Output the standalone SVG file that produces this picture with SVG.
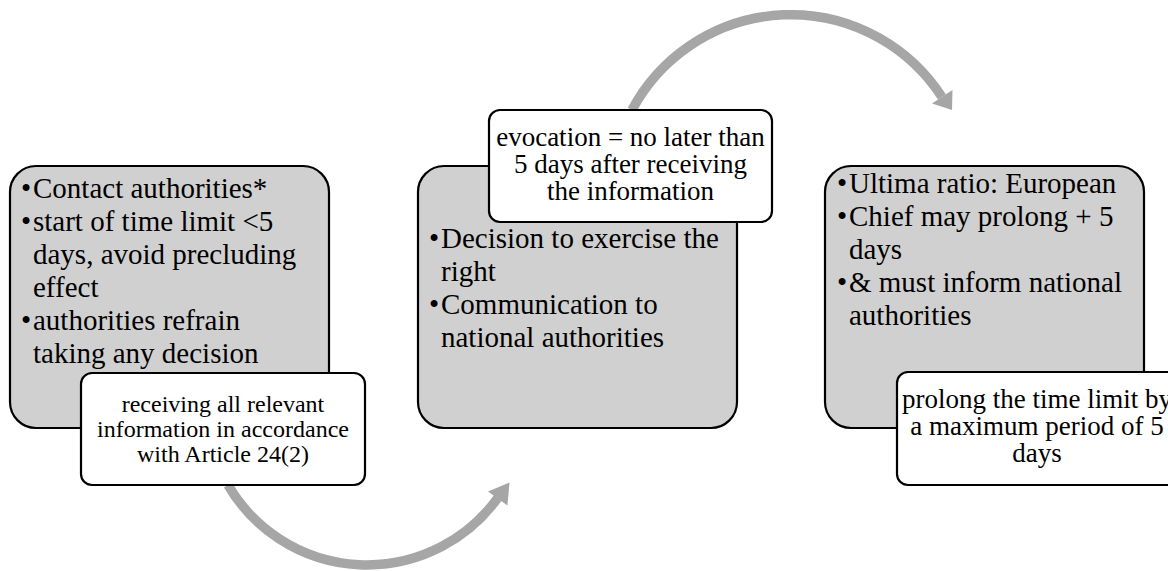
<svg xmlns="http://www.w3.org/2000/svg" width="1168" height="571" viewBox="0 0 1168 571">
<style>
.main{fill:#d0d0d0;stroke:#000;stroke-width:2.2}
.note{fill:#fff;stroke:#000;stroke-width:2.2}
.t{font-family:"Liberation Serif","Times New Roman",serif;fill:#000}
.m{font-size:29px}
.c{text-anchor:middle}
.arc{fill:none;stroke:#a6a6a6;stroke-width:9.5}
.head{fill:#a6a6a6}
</style>
<rect width="1168" height="571" fill="#fff"/>
<g id="connectors">
<path class="arc" d="M228,485 A161,161 0 0,0 497.7,498"/>
<polygon class="head" points="488,491.5 507.4,505.5 509.5,482.5"/>
<path class="arc" d="M632,110 A180,180 0 0,1 942,97"/>
<polygon class="head" points="932,103.6 952.5,90 952,110"/>
</g>
<g id="node1">
<rect class="main" x="10" y="166" width="319" height="262" rx="26"/>
<text class="t m"><tspan x="21" y="198">•</tspan><tspan x="33" y="198">Contact authorities*</tspan><tspan x="21" y="231">•</tspan><tspan x="33" y="231">start of time limit &lt;5</tspan><tspan x="33" y="264">days, avoid precluding</tspan><tspan x="33" y="297">effect</tspan><tspan x="21" y="330">•</tspan><tspan x="33" y="330">authorities refrain</tspan><tspan x="33" y="363">taking any decision</tspan></text>
</g>
<g id="note1">
<rect class="note" x="81" y="373" width="284" height="112" rx="11"/>
<text class="t c" font-size="24"><tspan x="223" y="412">receiving all relevant</tspan><tspan x="223" y="437">information in accordance</tspan><tspan x="223" y="462">with Article 24(2)</tspan></text>
</g>
<g id="node2">
<rect class="main" x="418" y="166" width="319" height="262" rx="26"/>
<text class="t m"><tspan x="429" y="248">•</tspan><tspan x="441" y="248">Decision to exercise the</tspan><tspan x="441" y="281">right</tspan><tspan x="429" y="314">•</tspan><tspan x="441" y="314">Communication to</tspan><tspan x="441" y="347">national authorities</tspan></text>
</g>
<g id="note2">
<rect class="note" x="489" y="110" width="283" height="112" rx="11"/>
<text class="t c" font-size="27"><tspan x="630.5" y="146">evocation = no later than</tspan><tspan x="630.5" y="173">5 days after receiving</tspan><tspan x="630.5" y="200">the information</tspan></text>
</g>
<g id="node3">
<rect class="main" x="825" y="166" width="319" height="262" rx="26"/>
<text class="t m"><tspan x="837" y="193">•</tspan><tspan x="849" y="193">Ultima ratio: European</tspan><tspan x="837" y="226">•</tspan><tspan x="849" y="226">Chief may prolong + 5</tspan><tspan x="849" y="259">days</tspan><tspan x="837" y="292">•</tspan><tspan x="849" y="292">&amp; must inform national</tspan><tspan x="849" y="325">authorities</tspan></text>
</g>
<g id="note3">
<rect class="note" x="897" y="372" width="284" height="113" rx="11"/>
<text class="t c" font-size="27"><tspan x="1037" y="408">prolong the time limit by</tspan><tspan x="1037" y="435">a maximum period of 5</tspan><tspan x="1037" y="462">days</tspan></text>
</g>
</svg>
